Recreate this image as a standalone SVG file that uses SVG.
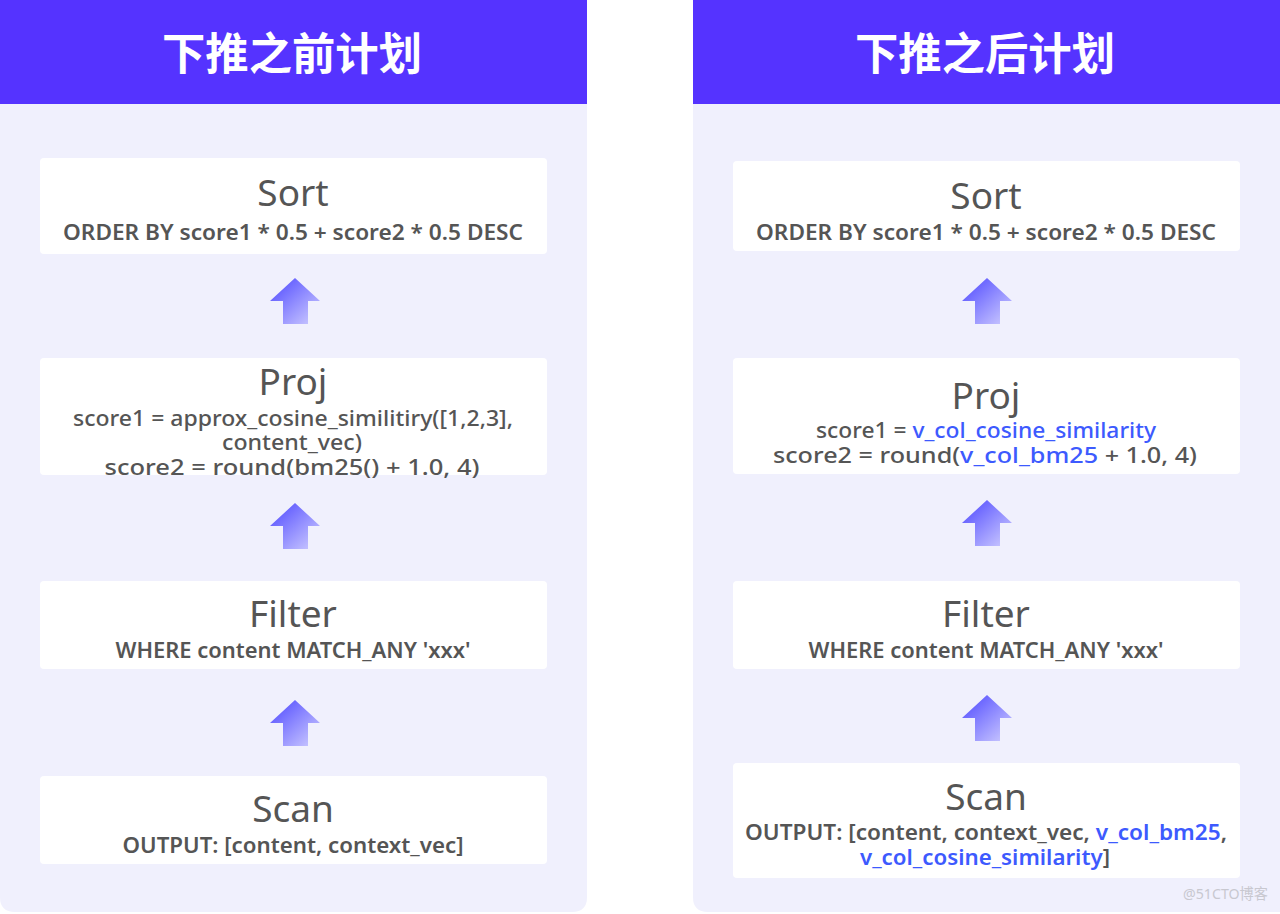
<svg xmlns="http://www.w3.org/2000/svg" width="1280" height="914" viewBox="0 0 1280 914">
<defs>
<linearGradient id="ag" x1="0" y1="0" x2="1" y2="1">
<stop offset="0" stop-color="#4B45FF"/>
<stop offset="1" stop-color="#D2D0FF"/>
</linearGradient>
<path id="arrow" d="M0,0 L25,23 L13,23 L13,46 L-12,46 L-12,23 L-25,23 Z" fill="url(#ag)"/>
<style>
.panel{fill:#F0F0FD}
.head{fill:#5533FF}
.htxt{font-family:"Noto Sans CJK SC","Noto Sans",sans-serif;font-size:44px;font-weight:700;fill:#FFFFFF;text-anchor:middle}
.box{fill:#FFFFFF}
.title{font-family:"Noto Sans","Open Sans",sans-serif;font-size:37px;fill:#555555;text-anchor:middle}
.sub{font-family:"Noto Sans","Open Sans",sans-serif;font-size:22px;font-weight:600;fill:#555555;text-anchor:middle}
.line{font-family:"Noto Sans","Open Sans",sans-serif;font-size:21px;font-weight:500;fill:#555555;text-anchor:middle}
.blue{fill:#3D5AFE}
.wm{font-family:"Noto Sans","Noto Sans CJK SC",sans-serif;font-size:15px;fill:#C8C8D0}
</style>
</defs>
<g id="panel-left">
<path class="panel" d="M0,0 H587 V897 Q587,912 572,912 H15 Q0,912 0,897 Z"/>
<rect class="head" x="0" y="0" width="587" height="104"/>
<text class="htxt" x="292" y="70" textLength="260" lengthAdjust="spacingAndGlyphs">下推之前计划</text>
</g>
<g id="panel-right">
<path class="panel" d="M693,0 H1280 V912 H708 Q693,912 693,897 Z"/>
<rect class="head" x="693" y="0" width="587" height="104"/>
<text class="htxt" x="985" y="70" textLength="260" lengthAdjust="spacingAndGlyphs">下推之后计划</text>
</g>
<g id="L-sort">
<rect class="box" x="40" y="158" width="507" height="96" rx="4"/>
<text class="title" x="293" y="206">Sort</text>
<text class="sub" x="293" y="240" textLength="460" lengthAdjust="spacingAndGlyphs">ORDER BY score1 * 0.5 + score2 * 0.5 DESC</text>
</g>
<g id="L-proj">
<rect class="box" x="40" y="358" width="507" height="117" rx="4"/>
<text class="title" x="293" y="395">Proj</text>
<text class="line" x="293" y="426" textLength="440" lengthAdjust="spacingAndGlyphs">score1 = approx_cosine_similitiry([1,2,3],</text>
<text class="line" x="292" y="450" textLength="140" lengthAdjust="spacingAndGlyphs">content_vec)</text>
<text class="line" x="292" y="475" textLength="375" lengthAdjust="spacingAndGlyphs">score2 = round(bm25() + 1.0, 4)</text>
</g>
<g id="L-filter">
<rect class="box" x="40" y="581" width="507" height="88" rx="4"/>
<text class="title" x="293" y="627">Filter</text>
<text class="sub" x="293" y="658" textLength="355" lengthAdjust="spacingAndGlyphs">WHERE content MATCH_ANY 'xxx'</text>
</g>
<g id="L-scan">
<rect class="box" x="40" y="776" width="507" height="88" rx="4"/>
<text class="title" x="293" y="822">Scan</text>
<text class="sub" x="293" y="853" textLength="341" lengthAdjust="spacingAndGlyphs">OUTPUT: [content, context_vec]</text>
</g>
<g id="R-sort">
<rect class="box" x="733" y="161" width="507" height="90" rx="4"/>
<text class="title" x="986" y="209">Sort</text>
<text class="sub" x="986" y="240" textLength="460" lengthAdjust="spacingAndGlyphs">ORDER BY score1 * 0.5 + score2 * 0.5 DESC</text>
</g>
<g id="R-proj">
<rect class="box" x="733" y="358" width="507" height="116" rx="4"/>
<text class="title" x="986" y="409">Proj</text>
<text class="line" x="986" y="438" textLength="340" lengthAdjust="spacingAndGlyphs">score1 = <tspan class="blue">v_col_cosine_similarity</tspan></text>
<text class="line" x="985" y="463" textLength="424" lengthAdjust="spacingAndGlyphs">score2 = round(<tspan class="blue">v_col_bm25</tspan>  + 1.0, 4)</text>
</g>
<g id="R-filter">
<rect class="box" x="733" y="581" width="507" height="88" rx="4"/>
<text class="title" x="986" y="627">Filter</text>
<text class="sub" x="986" y="658" textLength="355" lengthAdjust="spacingAndGlyphs">WHERE content MATCH_ANY 'xxx'</text>
</g>
<g id="R-scan">
<rect class="box" x="733" y="763" width="507" height="115" rx="4"/>
<text class="title" x="986" y="810">Scan</text>
<text class="sub" x="986" y="840" textLength="482" lengthAdjust="spacingAndGlyphs">OUTPUT: [content, context_vec, <tspan class="blue">v_col_bm25</tspan>,</text>
<text class="sub" x="985" y="865" textLength="250" lengthAdjust="spacingAndGlyphs"><tspan class="blue">v_col_cosine_similarity</tspan>]</text>
</g>
<g id="connectors">
<use href="#arrow" x="295" y="278"/>
<use href="#arrow" x="295" y="503"/>
<use href="#arrow" x="295" y="700"/>
<use href="#arrow" x="987" y="278"/>
<use href="#arrow" x="987" y="500"/>
<use href="#arrow" x="987" y="695"/>
</g>
<text class="wm" x="1183" y="899" textLength="85" lengthAdjust="spacingAndGlyphs">@51CTO博客</text>
</svg>
